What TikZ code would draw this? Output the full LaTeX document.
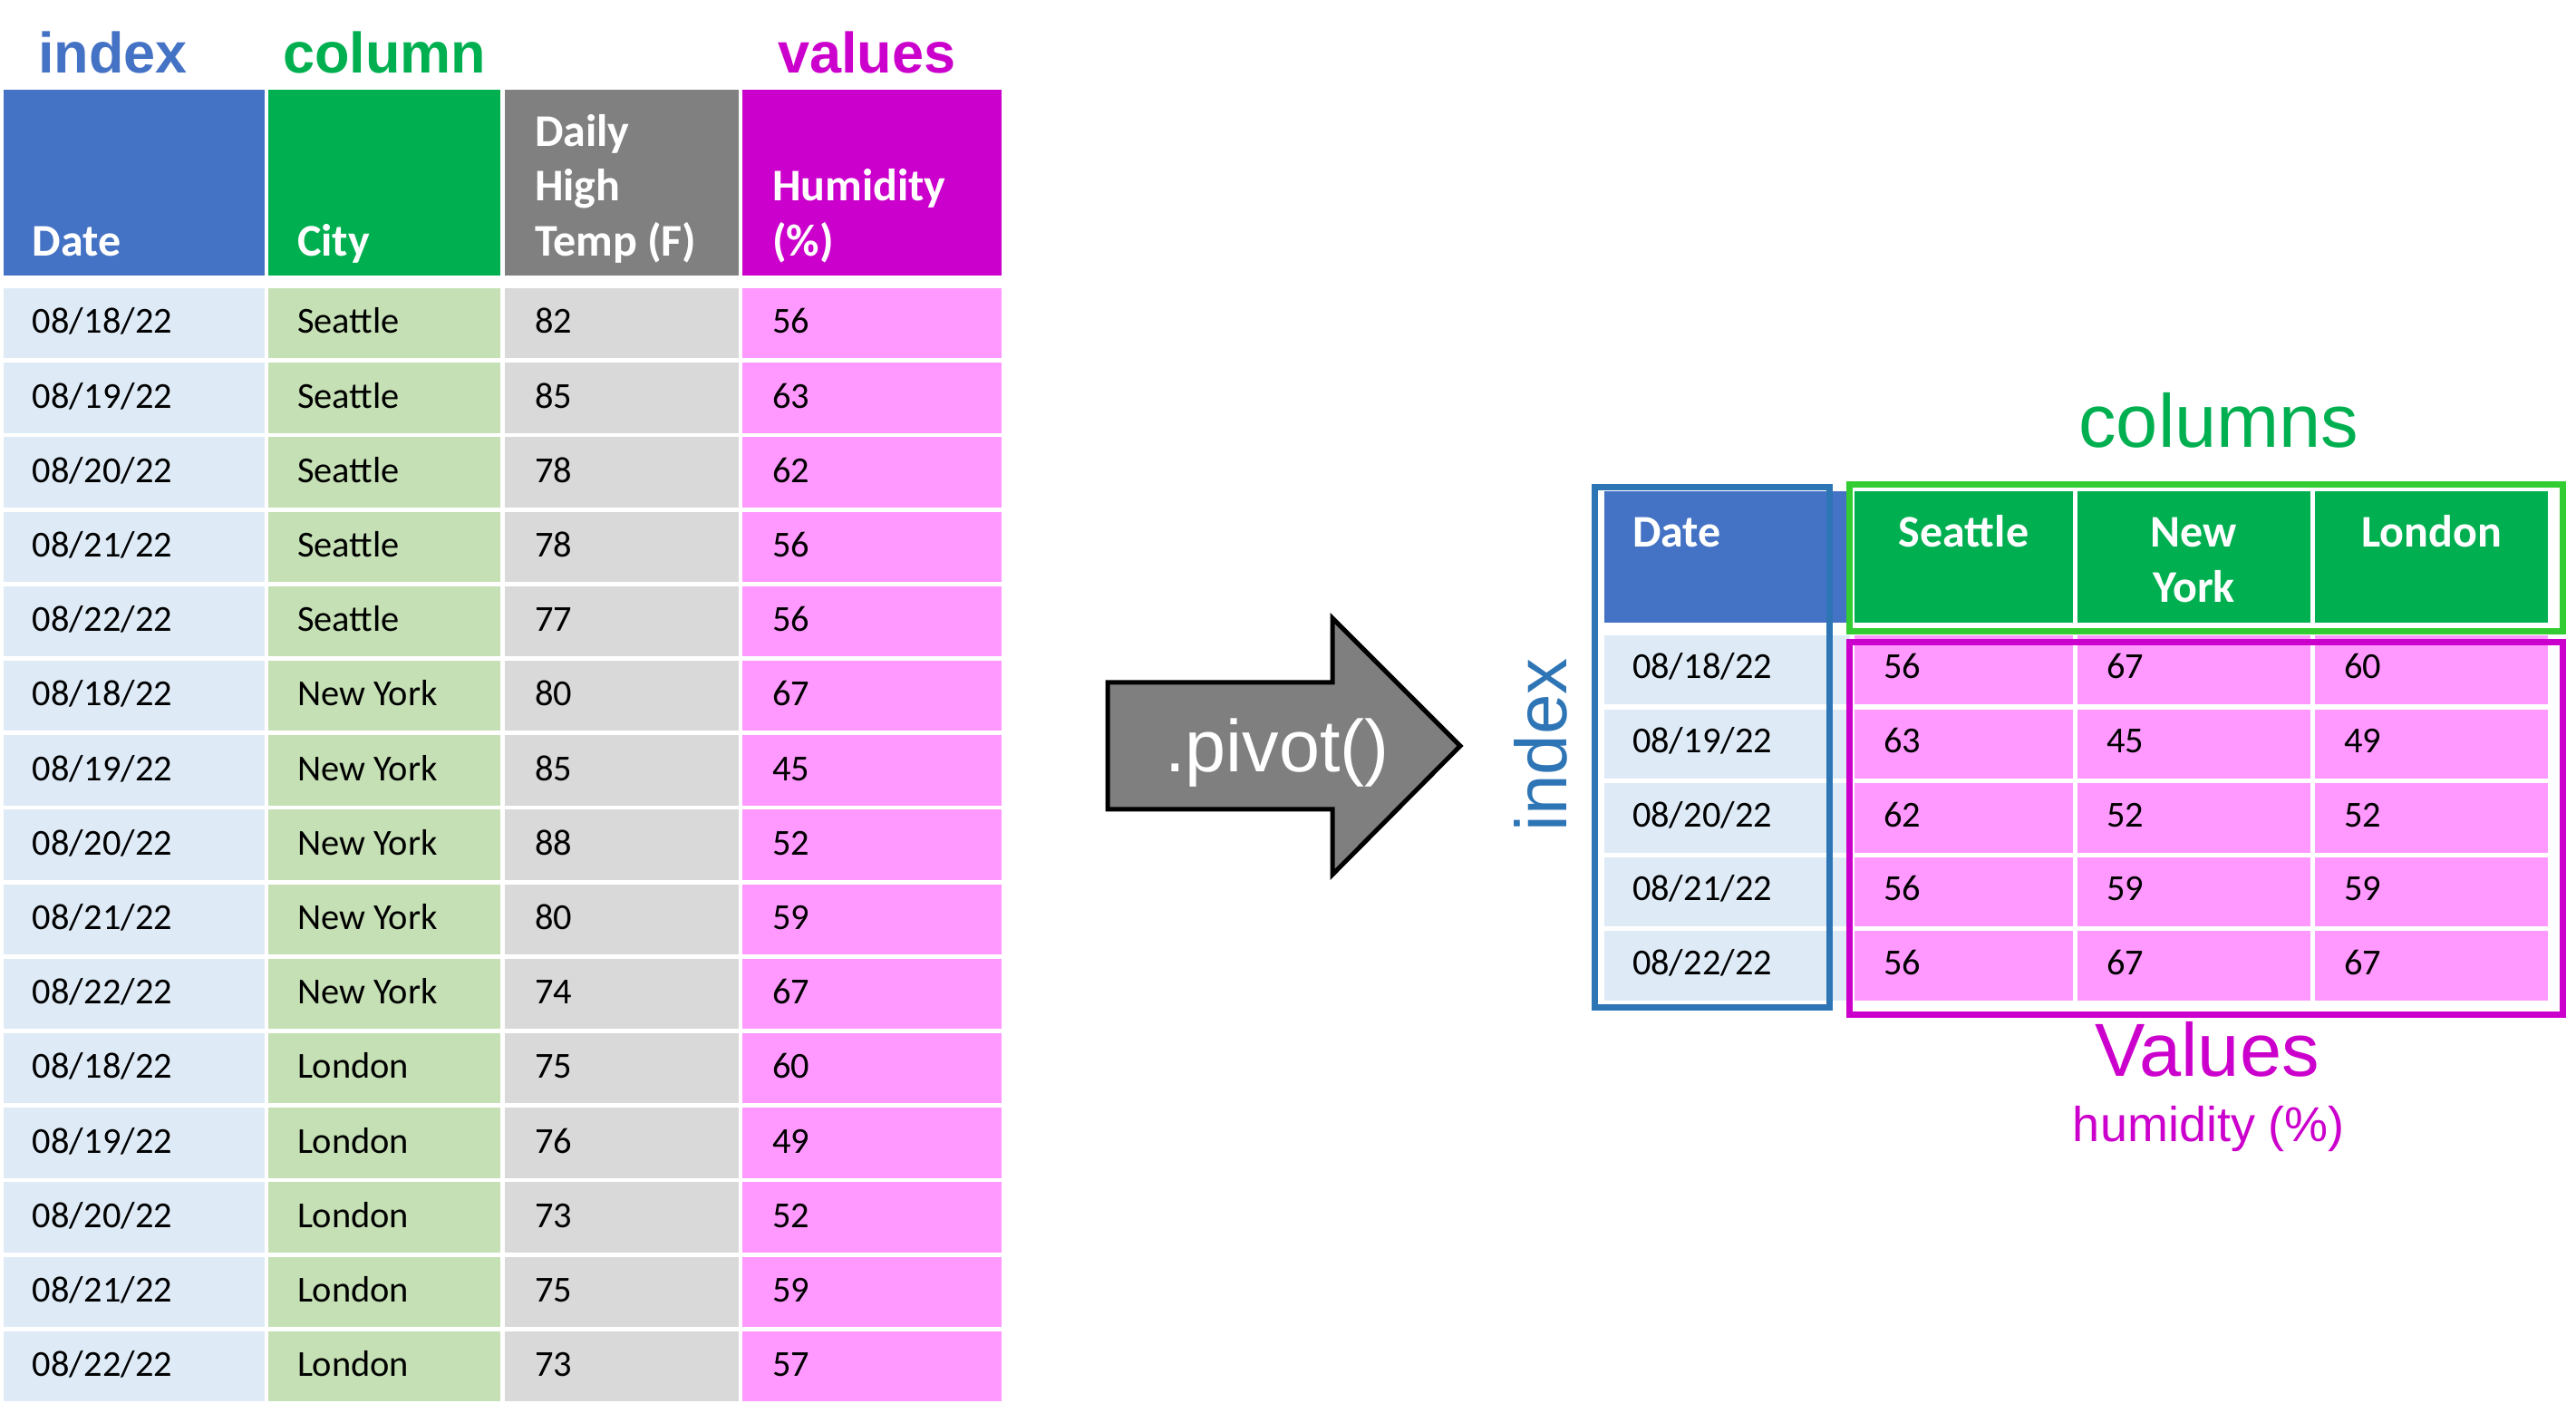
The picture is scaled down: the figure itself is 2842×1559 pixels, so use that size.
\documentclass[tikz,border=0pt]{standalone}
\usepackage{fontspec}
\setmainfont{Carlito}
\newfontfamily\arialf{Liberation Sans}
\definecolor{hblue}{HTML}{4472C4}
\definecolor{hgreen}{HTML}{00B050}
\definecolor{hgray}{HTML}{808080}
\definecolor{hmag}{HTML}{CC00CC}
\definecolor{lblue}{HTML}{DEEBF7}
\definecolor{lgreen}{HTML}{C5E0B4}
\definecolor{lgray}{HTML}{D9D9D9}
\definecolor{lpink}{HTML}{FF99FF}
\definecolor{boxblue}{HTML}{2E75B6}
\definecolor{boxgreen}{HTML}{33CC33}
\definecolor{arrgray}{HTML}{7F7F7F}
\begin{document}
\begin{tikzpicture}[x=0.25pt,y=-0.25pt,
  txt/.style={inner sep=0pt,outer sep=0pt},
  ttl/.style={txt,anchor=base west,font=\arialf\bfseries\fontsize{15.75}{18}\selectfont},
  htxt/.style={txt,anchor=base west,text=white,font=\bfseries\fontsize{12.5}{15}\selectfont},
  hctxt/.style={txt,anchor=base,text=white,font=\bfseries\fontsize{12.5}{15}\selectfont},
  dtxt/.style={txt,anchor=base west,text=black,font=\fontsize{10.1}{12}\selectfont},
  bigtxt/.style={txt,anchor=base,font=\arialf\fontsize{20.75}{24}\selectfont},
  outline/.style={line width=1.75pt}]
\useasboundingbox (0,0) rectangle (2842,1559);
\fill[white] (0,0) rectangle (2842,1559);

% ---------- left table titles ----------
\node[ttl,text=hblue] (tIndex) at (42,81) {index};
\node[ttl,text=hgreen] (tColumn) at (312,81) {column};
\node[ttl,text=hmag] (tValues) at (858,81) {values};

% ---------- left table header ----------
\fill[hblue] (4,99) rectangle (292,304);
\fill[hgreen] (296,99) rectangle (552,304);
\fill[hgray] (557,99) rectangle (815,304);
\fill[hmag] (819,99) rectangle (1105,304);
\node[htxt] (hDate) at (36,283) {Date};
\node[htxt] (hCity) at (328,283) {City};
\node[htxt] (hTemp1) at (590,162) {Daily};
\node[htxt] (hTemp2) at (590,222) {High};
\node[htxt] (hTemp3) at (590,283) {Temp (F)};
\node[htxt] (hHum1) at (852,222) {Humidity};
\node[htxt] (hHum2) at (852,283) {(\%)};

% ---------- left table data ----------
\foreach \cty/\tmp/\hum [count=\i from 0] in {
  Seattle/82/56, Seattle/85/63, Seattle/78/62, Seattle/78/56, Seattle/77/56,
  New York/80/67, New York/85/45, New York/88/52, New York/80/59, New York/74/67,
  London/75/60, London/76/49, London/73/52, London/75/59, London/73/57}{
  \pgfmathsetmacro\ry{318+82.2*\i}
  \pgfmathtruncatemacro\dday{18+mod(\i,5)}
  \fill[lblue] (4,\ry) rectangle (292,\ry+77.5);
  \fill[lgreen] (296,\ry) rectangle (552,\ry+77.5);
  \fill[lgray] (557,\ry) rectangle (815,\ry+77.5);
  \fill[lpink] (819,\ry) rectangle (1105,\ry+77.5);
  \node[dtxt] (lD\i) at (36,\ry+50) {08/\dday/22};
  \node[dtxt] (lC\i) at (328,\ry+50) {\cty};
  \node[dtxt] (lT\i) at (590,\ry+50) {\tmp};
  \node[dtxt] (lH\i) at (852,\ry+50) {\hum};
}

% ---------- arrow ----------
\draw[line width=1.25pt,fill=arrgray,line join=miter]
  (1222,753) -- (1470,753) -- (1470,682) -- (1611,823) -- (1470,965)
  -- (1470,893) -- (1222,893) -- cycle;
\node[txt,anchor=base,text=white,font=\arialf\fontsize{20.25}{24}\selectfont] (pivot) at (1409,852) {.pivot()};

% ---------- right side labels ----------
\node[txt,rotate=90,anchor=base,text=boxblue,font=\arialf\fontsize{20}{24}\selectfont] (rIndex) at (1728,822) {index};
\node[bigtxt,text=hgreen] (rColumns) at (2448,494) {columns};
\node[bigtxt,text=hmag] (rValues) at (2435,1188) {Values};
\node[txt,anchor=base,text=hmag,font=\arialf\fontsize{13.5}{16}\selectfont] (rHum) at (2437,1260) {humidity (\%)};

% ---------- right table header ----------
\fill[hblue] (1770,542) rectangle (2041,687);
\fill[hgreen] (2046,542) rectangle (2287,687);
\fill[hgreen] (2292,542) rectangle (2549,687);
\fill[hgreen] (2554,542) rectangle (2811,687);
\node[htxt] (rhDate) at (1801,604) {Date};
\node[hctxt] (rhSea) at (2166.5,604) {Seattle};
\node[hctxt] (rhNY1) at (2420.5,604) {New};
\node[hctxt] (rhNY2) at (2420.5,665) {York};
\node[hctxt] (rhLon) at (2682.5,604) {London};

% ---------- right table data ----------
\foreach \va/\vb/\vc [count=\i from 0] in {56/67/60, 63/45/49, 62/52/52, 56/59/59, 56/67/67}{
  \pgfmathsetmacro\ry{701+81.6*\i}
  \pgfmathtruncatemacro\dday{18+\i}
  \fill[lblue] (1770,\ry) rectangle (2041,\ry+76.5);
  \fill[lpink] (2046,\ry) rectangle (2287,\ry+76.5);
  \fill[lpink] (2292,\ry) rectangle (2549,\ry+76.5);
  \fill[lpink] (2554,\ry) rectangle (2811,\ry+76.5);
  \node[dtxt] (rD\i) at (1801,\ry+48) {08/\dday/22};
  \node[dtxt] (rA\i) at (2078,\ry+48) {\va};
  \node[dtxt] (rB\i) at (2324,\ry+48) {\vb};
  \node[dtxt] (rC\i) at (2586,\ry+48) {\vc};
}

% ---------- outline boxes ----------
\draw[outline,boxblue] (1759.5,538) rectangle (2018.5,1111.5);
\draw[outline,boxgreen] (2040.5,534.5) rectangle (2827,696.5);
\draw[outline,hmag] (2040.5,708.5) rectangle (2827,1119.5);
\end{tikzpicture}
\end{document}
